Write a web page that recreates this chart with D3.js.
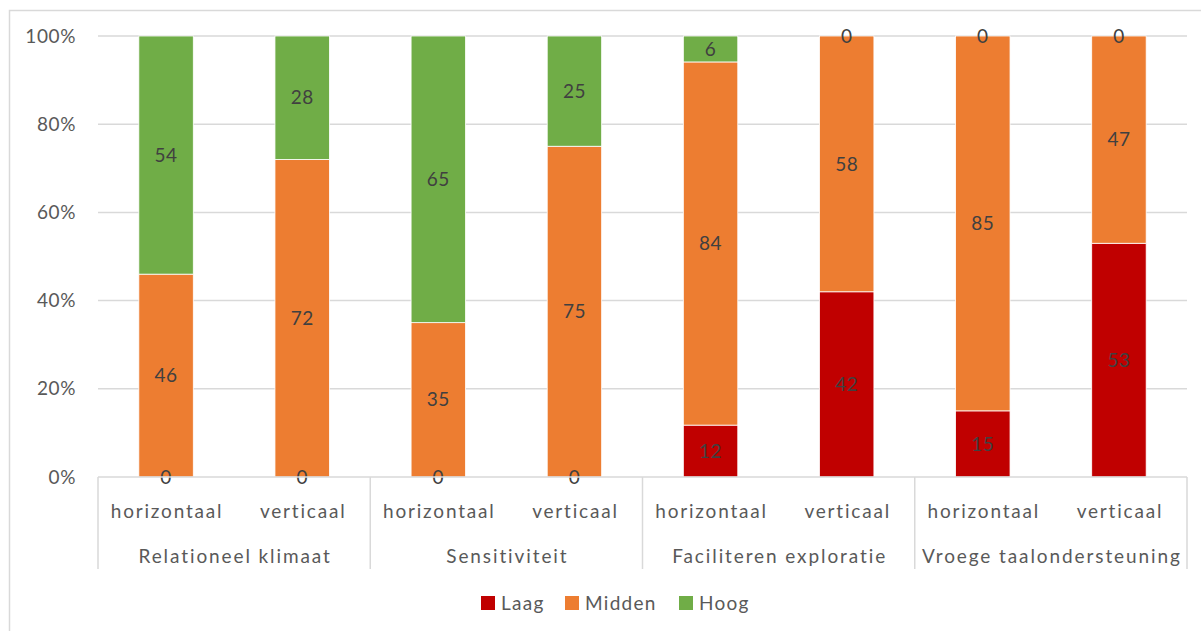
<!DOCTYPE html>
<html>
<head>
<meta charset="utf-8">
<script src="https://cdn.jsdelivr.net/npm/d3@7/dist/d3.min.js"></script>
<style>
  body { margin: 0; background: #fff; }
  text { font-family: Lato, "Open Sans", sans-serif; }
</style>
</head>
<body>
<div id="chart"></div>
<script>
// data
var groups = ["Relationeel klimaat", "Sensitiviteit", "Faciliteren exploratie", "Vroege taalondersteuning"];
var subs = ["horizontaal", "verticaal"];
var laag   = [0, 0, 0, 0, 12, 42, 15, 53];
var midden = [46, 72, 35, 75, 84, 58, 85, 47];
var hoog   = [54, 28, 65, 25, 6, 0, 0, 0];
var seriesNames = ["Laag", "Midden", "Hoog"];
var colors = ["#c00000", "#ed7d31", "#70ad47"];
var yTicks = [0, 0.2, 0.4, 0.6, 0.8, 1];

var W = 1201, H = 631;
var margin = {top: 36, left: 98, right: 14, bottom: 154};
var width = W - margin.left - margin.right,
    height = H - margin.top - margin.bottom;

var svg = d3.select("#chart").append("svg")
    .attr("width", W).attr("height", H);

// chart border
svg.append("rect")
    .attr("x", 9.5).attr("y", 10.5)
    .attr("width", W + 20).attr("height", H + 20)
    .attr("fill", "none").attr("stroke", "#d9d9d9").attr("stroke-width", 1.5);

var g = svg.append("g")
    .attr("transform", "translate(" + margin.left + "," + margin.top + ")");

var rows = [];
groups.forEach(function (grp, gi) {
    subs.forEach(function (s, si) {
        var i = gi * subs.length + si;
        rows.push({key: i, group: grp, sub: s, Laag: laag[i], Midden: midden[i], Hoog: hoog[i]});
    });
});

var x = d3.scaleBand()
    .domain(rows.map(function (d) { return d.key; }))
    .range([0, width])
    .paddingInner(0.6)
    .paddingOuter(0.3);

var y = d3.scaleLinear().domain([0, 1]).range([height, 0]);

// gridlines
g.append("g")
    .selectAll("line")
    .data(yTicks.slice(1))
    .enter().append("line")
    .attr("x1", 0).attr("x2", width)
    .attr("y1", function (d) { return y(d); })
    .attr("y2", function (d) { return y(d); })
    .attr("stroke", "#d9d9d9").attr("stroke-width", 1.5);

// y axis labels
var yAxis = g.append("g")
    .call(d3.axisLeft(y).tickValues(yTicks).tickFormat(d3.format(".0%")).tickSize(0).tickPadding(22));
yAxis.select(".domain").remove();
yAxis.selectAll("text")
    .style("font-size", "19px")
    .style("letter-spacing", "0.6px")
    .attr("fill", "#595959");

var stack = d3.stack().keys(seriesNames).offset(d3.stackOffsetExpand);
var stacked = stack(rows);

var layers = g.selectAll(".layer")
    .data(stacked)
    .enter().append("g")
    .attr("class", "layer")
    .attr("fill", function (d, i) { return colors[i]; });

layers.selectAll("rect")
    .data(function (d) { return d; })
    .enter().append("rect")
    .attr("x", function (d) { return x(d.data.key); })
    .attr("width", x.bandwidth())
    .attr("y", function (d) { return y(d[1]); })
    .attr("height", function (d) { return y(d[0]) - y(d[1]); })
    .attr("stroke", "#fff").attr("stroke-width", 0.8);

// data labels
stacked.forEach(function (layer) {
    g.append("g").selectAll("text")
        .data(layer)
        .enter().append("text")
        .attr("x", function (d) { return x(d.data.key) + x.bandwidth() / 2; })
        .attr("y", function (d) { return (y(d[0]) + y(d[1])) / 2; })
        .attr("dy", "0.35em")
        .attr("text-anchor", "middle")
        .style("font-size", "19px")
        .style("letter-spacing", "0.5px")
        .attr("fill", "#404040")
        .text(function (d) { return d.data[layer.key]; });
});

// category axis (two levels)
var axisCol = "#d9d9d9";
g.append("line")
    .attr("x1", 0).attr("x2", width)
    .attr("y1", height).attr("y2", height)
    .attr("stroke", axisCol).attr("stroke-width", 1.5);

var groupW = width / groups.length;
d3.range(groups.length + 1).forEach(function (i) {
    g.append("line")
        .attr("x1", i * groupW).attr("x2", i * groupW)
        .attr("y1", height).attr("y2", height + 92)
        .attr("stroke", axisCol).attr("stroke-width", 1.5);
});

g.append("g").selectAll("text")
    .data(rows)
    .enter().append("text")
    .attr("x", function (d) { return x(d.key) + x.bandwidth() / 2 + 1; })
    .attr("y", height + 41)
    .attr("text-anchor", "middle")
    .style("font-size", "19px")
    .style("letter-spacing", "1.8px")
    .attr("fill", "#595959")
    .text(function (d) { return d.sub; });

g.append("g").selectAll("text")
    .data(groups)
    .enter().append("text")
    .attr("x", function (d, i) { return (i + 0.5) * groupW + 1; })
    .attr("y", height + 86)
    .attr("text-anchor", "middle")
    .style("font-size", "19px")
    .style("letter-spacing", "1.9px")
    .attr("fill", "#595959")
    .text(function (d) { return d; });

// legend
var legendX = [481, 565, 679];
var legend = svg.append("g");
seriesNames.forEach(function (name, i) {
    legend.append("rect")
        .attr("x", legendX[i]).attr("y", 596)
        .attr("width", 14).attr("height", 14)
        .attr("fill", colors[i]);
    legend.append("text")
        .attr("x", legendX[i] + 20).attr("y", 610)
        .style("font-size", "19px")
        .style("letter-spacing", "1.3px")
        .attr("fill", "#595959")
        .text(name);
});
</script>
</body>
</html>
